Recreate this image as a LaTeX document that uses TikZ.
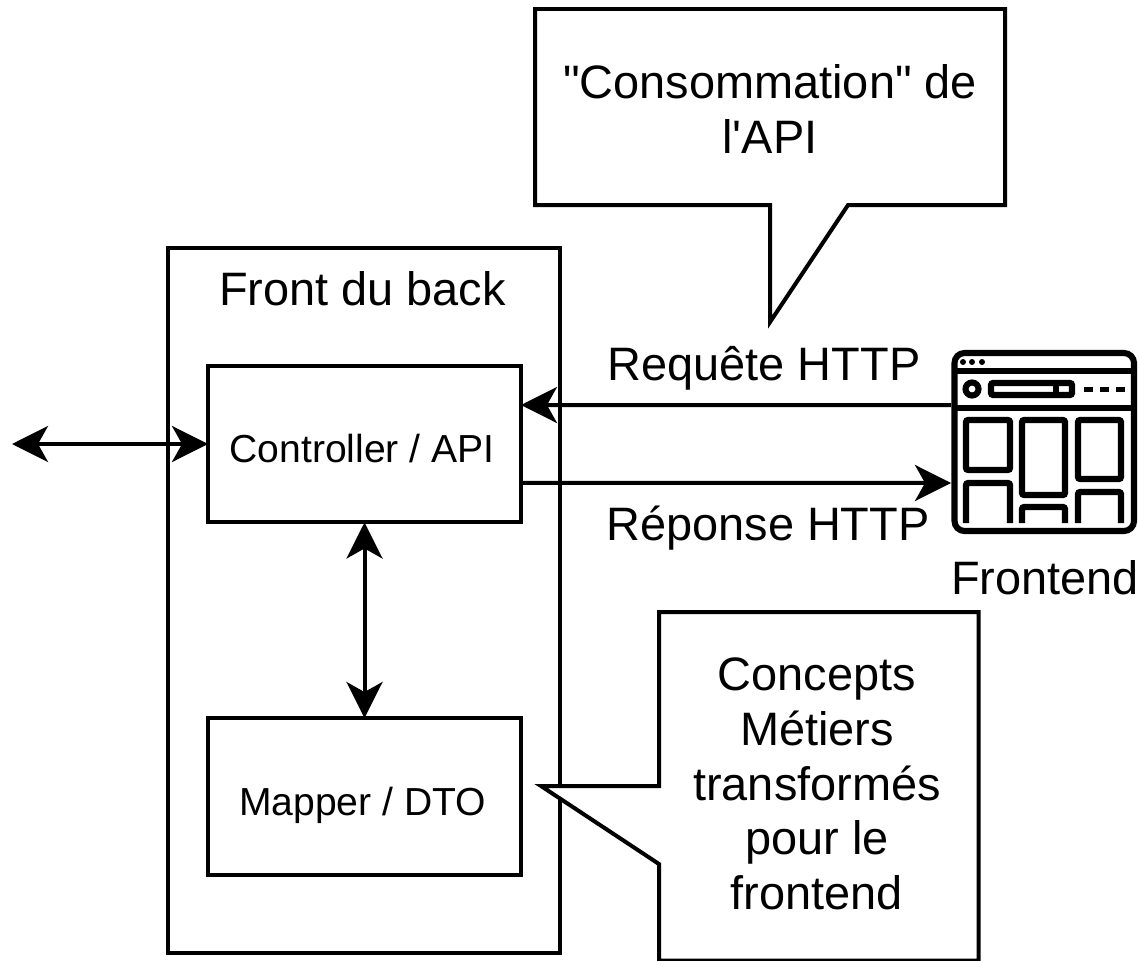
\documentclass[tikz,border=0pt]{standalone}
\usepackage{fontspec}
\setmainfont[Ligatures=TeXOff]{Liberation Sans}
\usetikzlibrary{arrows.meta}

\begin{document}
\begin{tikzpicture}[
x=0.02cm, y=-0.02cm,
boxnode/.style={draw=black, line width=0.08cm, inner sep=0pt, outer sep=0pt, minimum width=6.26cm, minimum height=3.14cm},
labelnode/.style={inner sep=0pt, font=\fontsize{22.25}{26}\selectfont},
textnode/.style={inner sep=0pt, align=center, font=\fontsize{26.7}{31.2}\selectfont},
callout/.style={draw=black, line width=0.08cm, fill=white, line join=miter},
iconline/.style={draw=black, line width=0.122cm, line cap=butt},
arrow/.style={line width=0.08cm, -{Stealth[length=0.72cm, width=0.72cm, inset=0.2cm]}},
twoway/.style={line width=0.08cm, {Stealth[length=0.72cm, width=0.72cm, inset=0.2cm]}-{Stealth[length=0.72cm, width=0.72cm, inset=0.2cm]}}
]
    \useasboundingbox (0,0) rectangle (1139,960);

    \draw [draw=black, line width=0.08cm] (168,248) rectangle (560,953);
    \node [textnode] (front) at (362.5,289) {Front du back};

    \node [boxnode] (ctrl) at (364.5,444) {};
    \node [boxnode] (mapper) at (364.5,796.5) {};
    \node [labelnode] (ctrllabel) at (362,449) {Controller / API};
    \node [labelnode] (mapperlabel) at (362.5,805) {Mapper / DTO};

    \coordinate (left) at (12,444);
    \draw [twoway] (left) -- (ctrl.west);
    \draw [twoway] (ctrl.south) -- (mapper.north);

    % frontend icon
    \node [minimum width=3.72cm, minimum height=3.68cm, inner sep=0pt, outer sep=0pt] (frontend) at (1044,442) {};
    \draw [iconline, rounded corners=0.2cm] (954.5,353) rectangle (1134,531);
    \draw [iconline] (954,371) -- (1134,371);
    \draw [iconline] (954,408) -- (1134,408);
    \fill (963,362) circle (3);
    \fill (972,362) circle (3);
    \fill (982,362) circle (3);
    \draw [iconline] (972,389) circle (6.5);
    \draw [iconline, rounded corners=0.04cm] (991,383) rectangle (1072,395);
    \fill (1053,383) rectangle (1059,395);
    \fill (1084,387) rectangle (1093,392);
    \fill (1100,387) rectangle (1109,392);
    \fill (1116,387) rectangle (1125,392);
    \draw [iconline, rounded corners=0.04cm] (966,420) rectangle (1010,470);
    \draw [iconline, rounded corners=0.04cm] (1022,420) rectangle (1065,495);
    \draw [iconline, rounded corners=0.04cm] (1078,420) rectangle (1121,479);
    \draw [iconline, rounded corners=0.04cm] (966,523) -- (966,483) -- (1010,483) -- (1010,523);
    \draw [iconline, rounded corners=0.04cm] (1022,523) -- (1022,507) -- (1065,507) -- (1065,523);
    \draw [iconline, rounded corners=0.04cm] (1078,523) -- (1078,492) -- (1121,492) -- (1121,523);

    \node [textnode] (frontendlabel) at (1045,578) {Frontend};

    \draw [arrow] ([yshift=0.74cm]frontend.west) -- ([yshift=0.78cm]ctrl.east);
    \draw [arrow] ([yshift=-0.78cm]ctrl.east) -- ([yshift=-0.82cm]frontend.west);
    \node [textnode] (req) at (764,368) {Requête HTTP};
    \node [textnode] (rep) at (768,528) {Réponse HTTP};

    % callouts
    \draw [callout] (535,9) -- (1005,9) -- (1005,205) -- (848,205) -- (770,322) -- (770,205) -- (535,205) -- cycle;
    \node [textnode] (conso) at (770,109) {"Consommation" de\\l'API};

    \draw [callout] (659,612) -- (978.5,612) -- (978.5,960.5) -- (659,960.5) -- (659,864) -- (541,786) -- (659,786) -- cycle;
    \node [textnode] (metiers) at (817,784) {Concepts\\Métiers\\transformés\\pour le\\frontend};
\end{tikzpicture}
\end{document}
